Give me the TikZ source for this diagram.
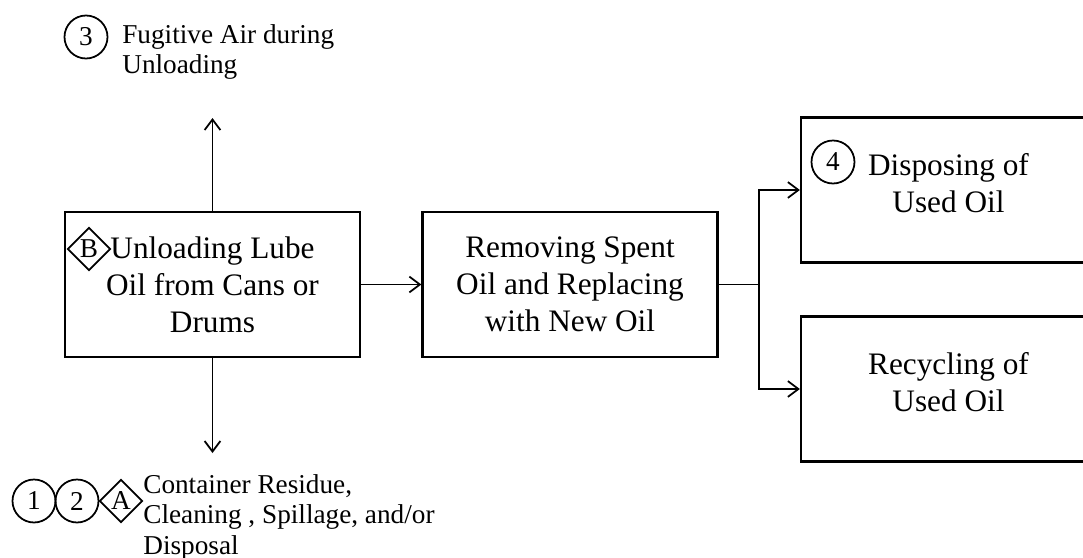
\documentclass[tikz,border=0pt]{standalone}
\usepackage{fontspec}
\setmainfont{Liberation Serif}
\usetikzlibrary{arrows.meta,shapes.geometric}

\newcommand{\textocaja}{\fontsize{17.8}{21}\selectfont}
\newcommand{\textonota}{\fontsize{15.5}{17.4}\selectfont}

\begin{document}
\begin{tikzpicture}[x=0.02cm, y=-0.02cm,
  >={Straight Barb[length=6pt,width=9pt]},
  caja/.style={draw, line width=1.3pt, minimum width=5.9cm, minimum height=2.9cm, align=center, font=\textocaja},
  circulo/.style={draw, circle, line width=1pt, minimum size=0.86cm, inner sep=0pt, font=\textonota},
  rombo/.style={draw, diamond, line width=1pt, minimum size=0.86cm, inner sep=0pt, font=\textonota},
  nota/.style={anchor=north west, inner sep=0pt, align=left, font=\textonota},
  flecha/.style={->, line width=1pt}]
  \useasboundingbox (0,0) rectangle (1083,558);

  % Cajas del proceso
  \node[caja] (descarga) at (212.5,284.5) {Unloading Lube\\Oil from Cans or\\Drums};
  \node[caja] (cambio) at (570,284.5) {Removing Spent\\Oil and Replacing\\with New Oil};
  \node[caja, text depth=0.28cm] (desecho) at (948.5,190) {Disposing of\\Used Oil};
  \node[caja, text depth=0.28cm] (reciclaje) at (948.5,389) {Recycling of\\Used Oil};

  % Marcas dentro de las cajas
  \node[rombo] (marcaB) at (89,249) {B};
  \node[circulo] (marca4) at (833,162) {4};

  % Emisiones hacia arriba
  \node[circulo] (marca3) at (86,37) {3};
  \node[nota] (fugitiva) at (122,24) {Fugitive Air during\\Unloading};

  % Residuos hacia abajo
  \node[circulo] (marca1) at (34,501) {1};
  \node[circulo] (marca2) at (77,501) {2};
  \node[rombo] (marcaA) at (121,501) {A};
  \node[nota] (residuo) at (143,474) {Container Residue,\\Cleaning , Spillage, and/or\\Disposal};

  % Puntos libres de las flechas
  \coordinate (arriba) at (212.5,118);
  \coordinate (abajo) at (212.5,453);
  \coordinate (rama) at (759,284.5);

  % Conexiones
  \draw[flecha] (descarga.north) -- (arriba);
  \draw[flecha] (descarga.south) -- (abajo);
  \draw[flecha] (descarga) -- (cambio);
  \draw[line width=1pt] (cambio.east) -- (rama);
  \draw[flecha] (rama) |- (desecho.west);
  \draw[flecha] (rama) |- (reciclaje.west);
\end{tikzpicture}
\end{document}
